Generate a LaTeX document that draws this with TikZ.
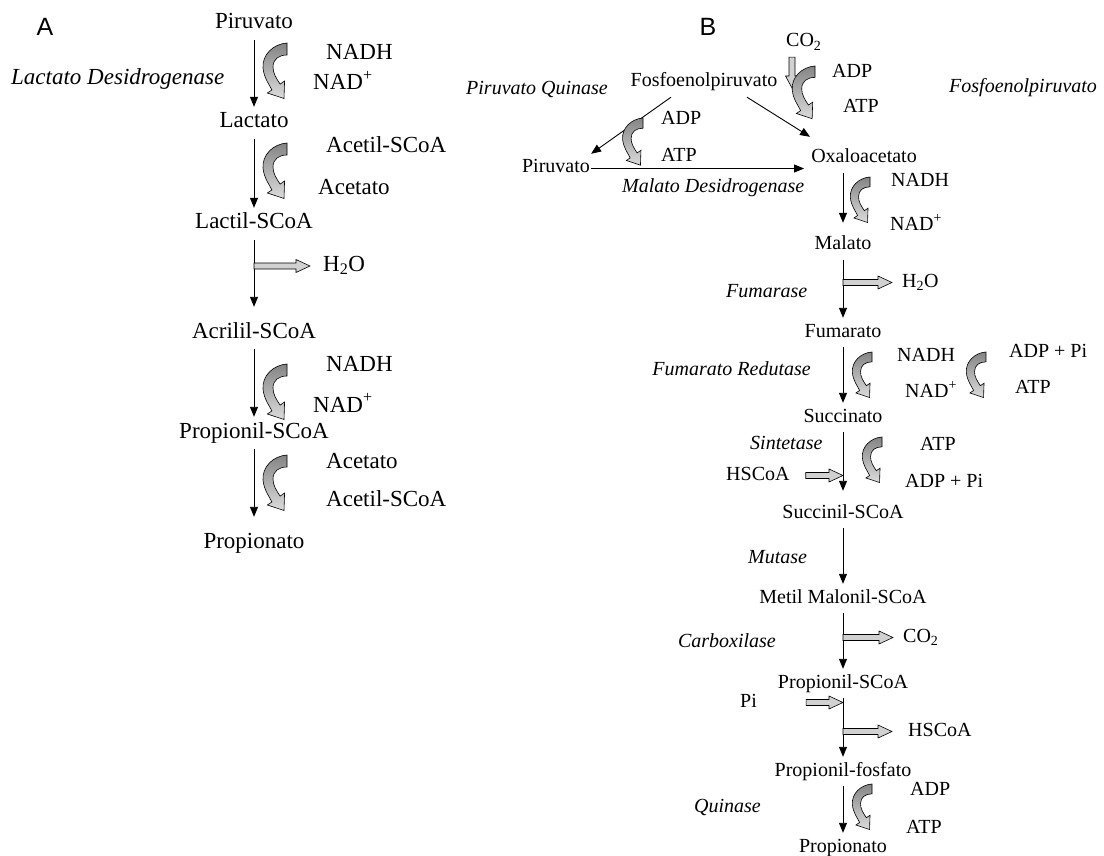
\documentclass[tikz,border=0pt]{standalone}
\usepackage{fontspec}
\setmainfont{Liberation Serif}
\newfontfamily\panelfont{Liberation Sans}
\usetikzlibrary{arrows.meta,calc}

\tikzset{
  reac/.style={-{Triangle[length=10pt,width=8pt]}, line width=0.9pt},
  cofill/.style={draw, line width=0.6pt, top color=black!48, bottom color=black!14},
  openarr/.style={draw, line width=0.6pt, fill=black!18,
    to path={let \p1=(\tikztostart), \p2=(\tikztotarget) in
      (\x1,\y1+3pt) -- (\x2-14pt,\y1+3pt) -- (\x2-14pt,\y1+6.5pt) -- (\x2,\y1)
      -- (\x2-14pt,\y1-6.5pt) -- (\x2-14pt,\y1-3pt) -- (\x1,\y1-3pt) -- cycle}},
  openarrdown/.style={draw, line width=0.6pt, fill=black!18,
    to path={let \p1=(\tikztostart), \p2=(\tikztotarget) in
      (\x1-3pt,\y1) -- (\x1-3pt,\y2+12pt) -- (\x1-6.5pt,\y2+12pt) -- (\x1,\y2)
      -- (\x1+6.5pt,\y2+12pt) -- (\x1+3pt,\y2+12pt) -- (\x1+3pt,\y1) -- cycle}},
  metA/.style={anchor=base, node font=\fontsize{23}{27}\selectfont,
    text height=16pt, text depth=6pt, inner ysep=5pt, inner xsep=1pt},
  metB/.style={anchor=base, node font=\fontsize{20}{24}\selectfont,
    text height=14pt, text depth=5pt, inner ysep=5pt, inner xsep=1pt},
  enz/.style={font=\itshape},
  panel/.style={anchor=base, font=\panelfont\fontsize{25}{30}\selectfont},
  cofactor/.pic={
    \draw[cofill] (0,0) .. controls (-14,1) and (-25,12) .. (-24,25)
      .. controls (-23,35) and (-18,41) .. (-15.1,46.9)
      -- (-19.6,50) -- (-3,55.5) -- (-2.4,38) -- (-6.9,41.1)
      .. controls (-11,35) and (-14,30) .. (-14,24)
      .. controls (-14,16) and (-8,12) .. (0,12) -- cycle;
  },
}

\begin{document}
\begin{tikzpicture}[x=1pt,y=-1pt]
\fill[white] (0,0) rectangle (1104,856);
\useasboundingbox (0,0) rectangle (1104,856);

\node[panel] (labA) at (45,36) {A};
\node[panel] (labB) at (708,36) {B};

% panel A
\begin{scope}[every node/.style=metA]
\node (pirA) at (254,29) {Piruvato};
\node (lacA) at (254,128) {Lactato};
\node (lscA) at (254,229) {Lactil-SCoA};
\node (acrA) at (254,338) {Acrilil-SCoA};
\node (prsA) at (254,438) {Propionil-SCoA};
\node (proA) at (254,548) {Propionato};
\node[enz, anchor=base west] (ldh) at (10,85) {Lactato Desidrogenase};
\node[anchor=base west] (nadhA1) at (325,60) {NADH};
\node[anchor=base west] (nadA1) at (312,90) {NAD\textsuperscript{+}};
\node[anchor=base west] (acsA1) at (325,153) {Acetil-SCoA};
\node[anchor=base west] (aceA1) at (317,195) {Acetato};
\node[anchor=base west] (h2oA) at (322,271) {H\textsubscript{2}O};
\node[anchor=base west] (nadhA2) at (325,371) {NADH};
\node[anchor=base west] (nadA2) at (312,412) {NAD\textsuperscript{+}};
\node[anchor=base west] (aceA2) at (325,468) {Acetato};
\node[anchor=base west] (acsA2) at (325,506) {Acetil-SCoA};

\draw[reac] (pirA) -- (lacA);
\draw[reac] (lacA) -- (lscA);
\draw[reac, shorten >=10pt] (lscA) -- (acrA);
\draw[reac] (acrA) -- (prsA);
\draw[reac, shorten >=10pt] (prsA) -- (proA);
\draw[openarr] (lscA |- h2oA) to ([xshift=-12pt]h2oA.west);

\pic at (287,43) {cofactor};
\pic at (287,143) {cofactor};
\pic at (287,364) {cofactor};
\pic at (287,455) {cofactor};
\end{scope}

% panel B
\begin{scope}[every node/.style=metB]
\node[anchor=base west] (co2T) at (785,47) {CO\textsubscript{2}};
\node (pep) at (704,87) {Fosfoenolpiruvato};
\node[anchor=base west] (adpT) at (831,78) {ADP};
\node[anchor=base west] (atpT) at (842,113) {ATP};
\node[enz, anchor=base west] (pepck) at (948,93) {Fosfoenolpiruvato};
\node[enz, anchor=base west] (pk) at (465,95) {Piruvato Quinase};
\node (pirB) at (556,173) {Piruvato};
\node[anchor=base west] (adpPK) at (660,125) {ADP};
\node[anchor=base west] (atpPK) at (660,162) {ATP};
\node[enz, anchor=base west] (mdh) at (621,193) {Malato Desidrogenase};
\node (oxa) at (864,163) {Oxaloacetato};
\node[anchor=base west] (nadhO) at (890,187) {NADH};
\node[anchor=base west] (nadO) at (889,230) {NAD\textsuperscript{+}};
\node (mal) at (843,250) {Malato};
\node[anchor=base west] (h2oB) at (901,287) {H\textsubscript{2}O};
\node[enz, anchor=base west] (fumase) at (725,297) {Fumarase};
\node (fum) at (843,337) {Fumarato};
\node[anchor=base west] (nadhF) at (896,361) {NADH};
\node[anchor=base west] (nadF) at (904,397) {NAD\textsuperscript{+}};
\node[anchor=base west] (adppiF) at (1008,357) {ADP + Pi};
\node[anchor=base west] (atpF) at (1014,393) {ATP};
\node[enz, anchor=base east] (fr) at (812,375) {Fumarato Redutase};
\node (suc) at (843,422) {Succinato};
\node[enz, anchor=base west] (sint) at (749,449) {Sintetase};
\node[anchor=base west] (atpS) at (919,450) {ATP};
\node[anchor=base west] (adppiS) at (904,487) {ADP + Pi};
\node[anchor=base west] (hscIn) at (725,480) {HSCoA};
\node (scoa) at (843,518) {Succinil-SCoA};
\node[enz, anchor=base west] (mut) at (747,563) {Mutase};
\node (mmc) at (843,603) {Metil Malonil-SCoA};
\node[anchor=base west] (co2B) at (902,642) {CO\textsubscript{2}};
\node[enz, anchor=base east] (carb) at (777,647) {Carboxilase};
\node (prsB) at (843,688) {Propionil-SCoA};
\node[anchor=base west] (piB) at (739,707) {Pi};
\node[anchor=base west] (hscOut) at (907,736) {HSCoA};
\node (prf) at (843,776) {Propionil-fosfato};
\node[anchor=base west] (adpQ) at (909,795) {ADP};
\node[anchor=base west] (atpQ) at (905,833) {ATP};
\node[enz, anchor=base east] (quin) at (762,812) {Quinase};
\node (proB) at (843,852) {Propionato};
\coordinate (co2end) at (792,88);

\draw[openarrdown] ([xshift=7pt]co2T.south west) to (co2end);
\draw[reac] ([xshift=-33pt]pep.south) -- (pirB.north east);
\draw[reac] ([xshift=43pt]pep.south) -- ([yshift=7pt]oxa.north west);
\draw[reac, shorten >=6pt] (pirB.east) -- (pirB.east -| oxa.west);
\draw[reac, shorten >=8pt] (oxa.south -| mal) -- (mal);
\draw[reac] (mal) -- (fum);
\draw[openarr] (mal |- h2oB) to ([xshift=-9pt]h2oB.west);
\draw[reac] (fum) -- (suc);
\draw[reac, shorten >=8pt] (suc) -- (scoa);
\draw[openarr] ([xshift=15pt]hscIn.east) to (suc |- hscIn);
\draw[reac] (scoa) -- (mmc);
\draw[reac] (mmc) -- (prsB);
\draw[openarr] (mmc |- co2B) to ([xshift=-9pt]co2B.west);
\draw[reac] (prsB) -- (prf);
\draw[openarr] ([xshift=48pt]piB.east) to (prsB |- piB);
\draw[openarr] (prsB |- hscOut) to ([xshift=-15pt]hscOut.west);
\draw[reac] (prf) -- (proB);

\pic[scale=0.95] at (815,66) {cofactor};
\pic[scale=0.85] at (643,118) {cofactor};
\pic[scale=0.82] at (870,177) {cofactor};
\pic[scale=0.82] at (872,352) {cofactor};
\pic[scale=0.82] at (986,352) {cofactor};
\pic[scale=0.82] at (882,437) {cofactor};
\pic[scale=0.82] at (872,784) {cofactor};
\end{scope}
\end{tikzpicture}
\end{document}
